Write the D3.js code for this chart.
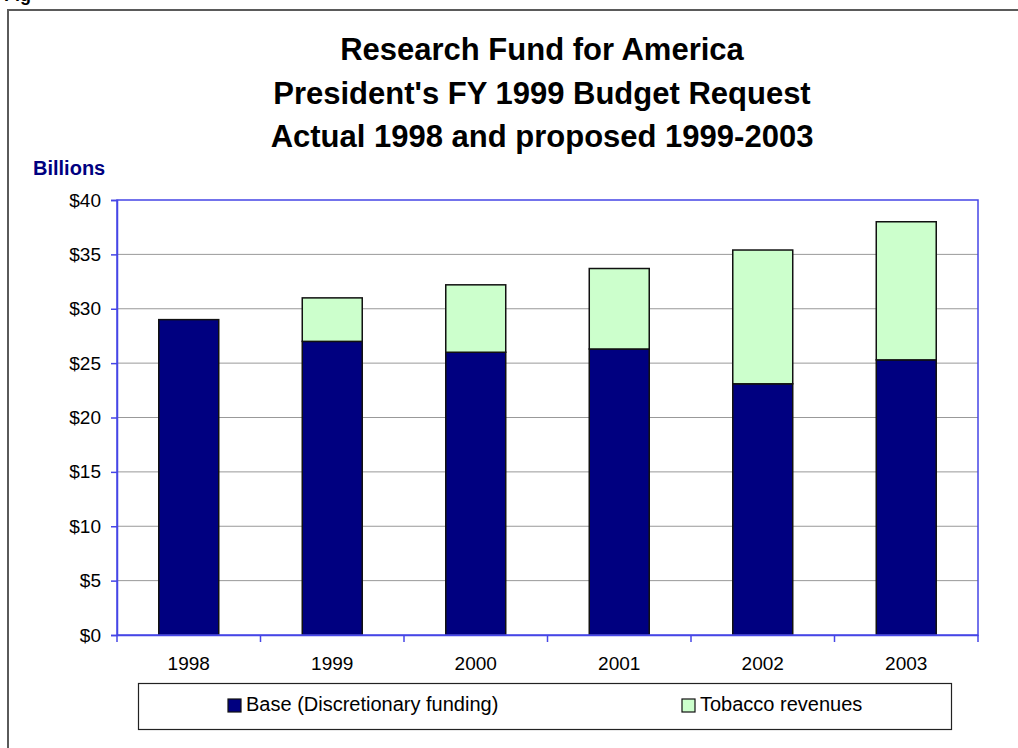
<!DOCTYPE html>
<html>
<head>
<meta charset="utf-8">
<script src="https://cdn.jsdelivr.net/npm/d3@7"></script>
<style>
  html, body { margin: 0; padding: 0; background: #fff; }
  svg { display: block; }
  text { font-family: "Liberation Sans", Arial, sans-serif; }
</style>
</head>
<body>
<svg id="chart" width="1018" height="748"></svg>
<script>
// Budget request data, billions of dollars
const years = ["1998", "1999", "2000", "2001", "2002", "2003"];
const baseFunding = [29.0, 27.0, 26.0, 26.3, 23.1, 25.3];
const tobaccoRevenues = [0, 4.0, 6.2, 7.4, 12.3, 12.7];
const seriesNames = ["Base (Discretionary funding)", "Tobacco revenues"];
const seriesColors = ["#000080", "#ccffcc"];
const yTicks = [0, 5, 10, 15, 20, 25, 30, 35, 40];
const titleLines = [
  "Research Fund for America",
  "President's FY 1999 Budget Request",
  "Actual 1998 and proposed 1999-2003"
];

const svg = d3.select("#chart");
const axisBlue = "#4646e6";

const plot = { left: 117, right: 978, top: 200, bottom: 635 };

// Outer frame (extends past the right and bottom edges)
svg.append("rect")
  .attr("x", 8).attr("y", 10)
  .attr("width", 1030).attr("height", 760)
  .attr("fill", "none").attr("stroke", "#5a5a5a").attr("stroke-width", 2);

// Caption fragment at the very top edge
svg.append("text")
  .attr("x", 31).attr("y", 1)
  .attr("text-anchor", "end")
  .attr("font-size", 18).attr("font-weight", "bold")
  .attr("fill", "#000")
  .text("Fig");

// Title
svg.append("g").selectAll("text")
  .data(titleLines)
  .join("text")
  .attr("x", 542)
  .attr("y", (d, i) => 60 + i * 43.5)
  .attr("text-anchor", "middle")
  .attr("font-size", 31).attr("font-weight", "bold")
  .attr("fill", "#000")
  .text(d => d);

// Units label
svg.append("text")
  .attr("x", 33).attr("y", 175)
  .attr("font-size", 20).attr("font-weight", "bold")
  .attr("fill", "#000080")
  .text("Billions");

// Scales
const x = d3.scaleBand().domain(years).range([plot.left, plot.right]).padding(0);
const y = d3.scaleLinear().domain([0, 40]).range([plot.bottom, plot.top]);
const barFrac = 0.418;
const barW = x.bandwidth() * barFrac;

// Gridlines
svg.append("g").selectAll("line")
  .data(yTicks.filter(v => v > 0 && v < 40))
  .join("line")
  .attr("x1", plot.left).attr("x2", plot.right)
  .attr("y1", d => y(d)).attr("y2", d => y(d))
  .attr("stroke", "#999").attr("stroke-width", 1);

// Stacked bars
const stackData = years.map((yr, i) => ({ year: yr, base: baseFunding[i], tobacco: tobaccoRevenues[i] }));
const stacked = d3.stack().keys(["base", "tobacco"])(stackData);

svg.append("g").selectAll("g")
  .data(stacked)
  .join("g")
  .attr("fill", (d, i) => seriesColors[i])
  .selectAll("rect")
  .data(d => d.filter(s => s[1] - s[0] > 0))
  .join("rect")
  .attr("x", d => x(d.data.year) + (x.bandwidth() - barW) / 2)
  .attr("width", barW)
  .attr("y", d => y(d[1]))
  .attr("height", d => y(d[0]) - y(d[1]))
  .attr("stroke", "#111").attr("stroke-width", 1.5);

// Plot area border
svg.append("rect")
  .attr("x", plot.left).attr("y", plot.top)
  .attr("width", plot.right - plot.left).attr("height", plot.bottom - plot.top)
  .attr("fill", "none").attr("stroke", axisBlue).attr("stroke-width", 1.5);

// Y axis
const yAxis = svg.append("g")
  .attr("transform", `translate(${plot.left},0)`)
  .call(d3.axisLeft(y).tickValues(yTicks).tickSize(6).tickPadding(10).tickFormat(d => "$" + d));
yAxis.select(".domain").attr("stroke", axisBlue).attr("stroke-width", 1.5);
yAxis.selectAll(".tick line").attr("stroke", axisBlue).attr("stroke-width", 1.5);
yAxis.selectAll(".tick text")
  .attr("font-size", 19).attr("font-family", "'Liberation Sans', Arial, sans-serif")
  .attr("fill", "#000");

// X axis: tick marks at category boundaries, labels centred under bars
const xAxis = svg.append("g")
  .attr("transform", `translate(0,${plot.bottom})`)
  .call(d3.axisBottom(x).tickSize(0).tickPadding(0));
xAxis.select(".domain").attr("stroke", axisBlue).attr("stroke-width", 1.5);
xAxis.selectAll(".tick text")
  .attr("y", 35).attr("dy", 0)
  .attr("font-size", 19).attr("font-family", "'Liberation Sans', Arial, sans-serif")
  .attr("fill", "#000");

const boundaries = years.map(yr => x(yr)).concat([x(years[years.length - 1]) + x.step()]);
xAxis.append("g").selectAll("line")
  .data(boundaries)
  .join("line")
  .attr("x1", d => d).attr("x2", d => d)
  .attr("y1", 0).attr("y2", 7)
  .attr("stroke", axisBlue).attr("stroke-width", 1.5);

// Legend
const legend = svg.append("g");
legend.append("rect")
  .attr("x", 138.5).attr("y", 683.5)
  .attr("width", 813).attr("height", 46)
  .attr("fill", "#fff").attr("stroke", "#222").attr("stroke-width", 1.2);

const legendX = [228, 682];
const items = legend.selectAll("g.item")
  .data(seriesNames)
  .join("g").attr("class", "item")
  .attr("transform", (d, i) => `translate(${legendX[i]},0)`);
items.append("rect")
  .attr("x", 0).attr("y", 699)
  .attr("width", 13).attr("height", 13)
  .attr("fill", (d, i) => seriesColors[i])
  .attr("stroke", "#111").attr("stroke-width", 1.2);
items.append("text")
  .attr("x", 18).attr("y", 711)
  .attr("font-size", 20).attr("fill", "#000")
  .text(d => d);
</script>
</body>
</html>
